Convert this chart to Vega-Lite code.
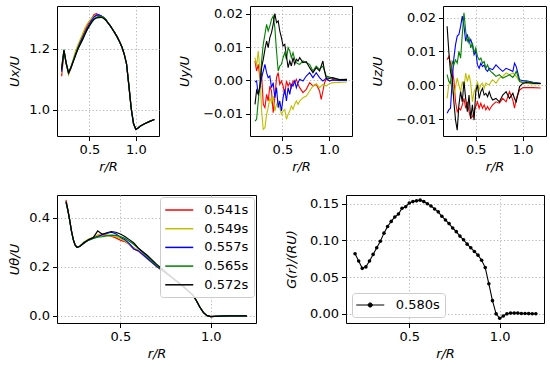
{
"$schema": "https://vega.github.io/schema/vega-lite/v6.json",
"padding": {"left": 8, "top": 5, "right": 0, "bottom": 0},
"background": "white",
"spacing": 20,
"resolve": {"scale": {"color": "independent"}},
"datasets": {
"ux": [
{"s":"0.541s","r":0.2,"v":1.11},{"s":"0.541s","r":0.225,"v":1.19},{"s":"0.541s","r":0.25,"v":1.15},{"s":"0.541s","r":0.275,"v":1.118},{"s":"0.541s","r":0.3,"v":1.135},{"s":"0.541s","r":0.325,"v":1.16},{"s":"0.541s","r":0.35,"v":1.186},{"s":"0.541s","r":0.375,"v":1.206},{"s":"0.541s","r":0.4,"v":1.225},{"s":"0.541s","r":0.425,"v":1.242},{"s":"0.541s","r":0.45,"v":1.26},{"s":"0.541s","r":0.475,"v":1.276},{"s":"0.541s","r":0.5,"v":1.288},{"s":"0.541s","r":0.525,"v":1.3},{"s":"0.541s","r":0.55,"v":1.312},{"s":"0.541s","r":0.575,"v":1.315},{"s":"0.541s","r":0.6,"v":1.311},{"s":"0.541s","r":0.625,"v":1.307},{"s":"0.541s","r":0.65,"v":1.302},{"s":"0.541s","r":0.675,"v":1.295},{"s":"0.541s","r":0.7,"v":1.285},{"s":"0.541s","r":0.725,"v":1.275},{"s":"0.541s","r":0.75,"v":1.263},{"s":"0.541s","r":0.775,"v":1.251},{"s":"0.541s","r":0.8,"v":1.238},{"s":"0.541s","r":0.825,"v":1.223},{"s":"0.541s","r":0.85,"v":1.206},{"s":"0.541s","r":0.875,"v":1.182},{"s":"0.541s","r":0.9,"v":1.15},{"s":"0.541s","r":0.925,"v":1.08},{"s":"0.541s","r":0.95,"v":1.005},{"s":"0.541s","r":0.975,"v":0.955},{"s":"0.541s","r":1.0,"v":0.936},{"s":"0.541s","r":1.025,"v":0.94},{"s":"0.541s","r":1.05,"v":0.947},{"s":"0.541s","r":1.1,"v":0.955},{"s":"0.541s","r":1.15,"v":0.962},{"s":"0.541s","r":1.2,"v":0.968},
{"s":"0.549s","r":0.2,"v":1.12},{"s":"0.549s","r":0.225,"v":1.192},{"s":"0.549s","r":0.25,"v":1.148},{"s":"0.549s","r":0.275,"v":1.115},{"s":"0.549s","r":0.3,"v":1.14},{"s":"0.549s","r":0.325,"v":1.166},{"s":"0.549s","r":0.35,"v":1.192},{"s":"0.549s","r":0.375,"v":1.212},{"s":"0.549s","r":0.4,"v":1.23},{"s":"0.549s","r":0.425,"v":1.248},{"s":"0.549s","r":0.45,"v":1.266},{"s":"0.549s","r":0.475,"v":1.281},{"s":"0.549s","r":0.5,"v":1.291},{"s":"0.549s","r":0.525,"v":1.3},{"s":"0.549s","r":0.55,"v":1.307},{"s":"0.549s","r":0.575,"v":1.31},{"s":"0.549s","r":0.6,"v":1.308},{"s":"0.549s","r":0.625,"v":1.305},{"s":"0.549s","r":0.65,"v":1.301},{"s":"0.549s","r":0.675,"v":1.295},{"s":"0.549s","r":0.7,"v":1.285},{"s":"0.549s","r":0.725,"v":1.275},{"s":"0.549s","r":0.75,"v":1.263},{"s":"0.549s","r":0.775,"v":1.251},{"s":"0.549s","r":0.8,"v":1.238},{"s":"0.549s","r":0.825,"v":1.223},{"s":"0.549s","r":0.85,"v":1.206},{"s":"0.549s","r":0.875,"v":1.182},{"s":"0.549s","r":0.9,"v":1.15},{"s":"0.549s","r":0.925,"v":1.08},{"s":"0.549s","r":0.95,"v":1.005},{"s":"0.549s","r":0.975,"v":0.955},{"s":"0.549s","r":1.0,"v":0.936},{"s":"0.549s","r":1.025,"v":0.94},{"s":"0.549s","r":1.05,"v":0.947},{"s":"0.549s","r":1.1,"v":0.955},{"s":"0.549s","r":1.15,"v":0.962},{"s":"0.549s","r":1.2,"v":0.968},
{"s":"0.557s","r":0.2,"v":1.125},{"s":"0.557s","r":0.225,"v":1.195},{"s":"0.557s","r":0.25,"v":1.152},{"s":"0.557s","r":0.275,"v":1.12},{"s":"0.557s","r":0.3,"v":1.138},{"s":"0.557s","r":0.325,"v":1.16},{"s":"0.557s","r":0.35,"v":1.182},{"s":"0.557s","r":0.375,"v":1.202},{"s":"0.557s","r":0.4,"v":1.22},{"s":"0.557s","r":0.425,"v":1.236},{"s":"0.557s","r":0.45,"v":1.252},{"s":"0.557s","r":0.475,"v":1.268},{"s":"0.557s","r":0.5,"v":1.281},{"s":"0.557s","r":0.525,"v":1.294},{"s":"0.557s","r":0.55,"v":1.304},{"s":"0.557s","r":0.575,"v":1.31},{"s":"0.557s","r":0.6,"v":1.311},{"s":"0.557s","r":0.625,"v":1.308},{"s":"0.557s","r":0.65,"v":1.303},{"s":"0.557s","r":0.675,"v":1.296},{"s":"0.557s","r":0.7,"v":1.285},{"s":"0.557s","r":0.725,"v":1.275},{"s":"0.557s","r":0.75,"v":1.263},{"s":"0.557s","r":0.775,"v":1.251},{"s":"0.557s","r":0.8,"v":1.238},{"s":"0.557s","r":0.825,"v":1.223},{"s":"0.557s","r":0.85,"v":1.206},{"s":"0.557s","r":0.875,"v":1.182},{"s":"0.557s","r":0.9,"v":1.15},{"s":"0.557s","r":0.925,"v":1.08},{"s":"0.557s","r":0.95,"v":1.005},{"s":"0.557s","r":0.975,"v":0.955},{"s":"0.557s","r":1.0,"v":0.936},{"s":"0.557s","r":1.025,"v":0.94},{"s":"0.557s","r":1.05,"v":0.947},{"s":"0.557s","r":1.1,"v":0.955},{"s":"0.557s","r":1.15,"v":0.962},{"s":"0.557s","r":1.2,"v":0.968},
{"s":"0.565s","r":0.2,"v":1.14},{"s":"0.565s","r":0.225,"v":1.197},{"s":"0.565s","r":0.25,"v":1.152},{"s":"0.565s","r":0.275,"v":1.122},{"s":"0.565s","r":0.3,"v":1.14},{"s":"0.565s","r":0.325,"v":1.16},{"s":"0.565s","r":0.35,"v":1.18},{"s":"0.565s","r":0.375,"v":1.2},{"s":"0.565s","r":0.4,"v":1.215},{"s":"0.565s","r":0.425,"v":1.23},{"s":"0.565s","r":0.45,"v":1.248},{"s":"0.565s","r":0.475,"v":1.262},{"s":"0.565s","r":0.5,"v":1.274},{"s":"0.565s","r":0.525,"v":1.286},{"s":"0.565s","r":0.55,"v":1.296},{"s":"0.565s","r":0.575,"v":1.303},{"s":"0.565s","r":0.6,"v":1.306},{"s":"0.565s","r":0.625,"v":1.306},{"s":"0.565s","r":0.65,"v":1.303},{"s":"0.565s","r":0.675,"v":1.296},{"s":"0.565s","r":0.7,"v":1.285},{"s":"0.565s","r":0.725,"v":1.275},{"s":"0.565s","r":0.75,"v":1.263},{"s":"0.565s","r":0.775,"v":1.251},{"s":"0.565s","r":0.8,"v":1.238},{"s":"0.565s","r":0.825,"v":1.223},{"s":"0.565s","r":0.85,"v":1.206},{"s":"0.565s","r":0.875,"v":1.182},{"s":"0.565s","r":0.9,"v":1.15},{"s":"0.565s","r":0.925,"v":1.08},{"s":"0.565s","r":0.95,"v":1.005},{"s":"0.565s","r":0.975,"v":0.955},{"s":"0.565s","r":1.0,"v":0.936},{"s":"0.565s","r":1.025,"v":0.94},{"s":"0.565s","r":1.05,"v":0.947},{"s":"0.565s","r":1.1,"v":0.955},{"s":"0.565s","r":1.15,"v":0.962},{"s":"0.565s","r":1.2,"v":0.968},
{"s":"0.572s","r":0.2,"v":1.132},{"s":"0.572s","r":0.225,"v":1.195},{"s":"0.572s","r":0.25,"v":1.15},{"s":"0.572s","r":0.275,"v":1.121},{"s":"0.572s","r":0.3,"v":1.138},{"s":"0.572s","r":0.325,"v":1.157},{"s":"0.572s","r":0.35,"v":1.178},{"s":"0.572s","r":0.375,"v":1.198},{"s":"0.572s","r":0.4,"v":1.214},{"s":"0.572s","r":0.425,"v":1.229},{"s":"0.572s","r":0.45,"v":1.246},{"s":"0.572s","r":0.475,"v":1.262},{"s":"0.572s","r":0.5,"v":1.276},{"s":"0.572s","r":0.525,"v":1.288},{"s":"0.572s","r":0.55,"v":1.297},{"s":"0.572s","r":0.575,"v":1.301},{"s":"0.572s","r":0.6,"v":1.302},{"s":"0.572s","r":0.625,"v":1.303},{"s":"0.572s","r":0.65,"v":1.3},{"s":"0.572s","r":0.675,"v":1.294},{"s":"0.572s","r":0.7,"v":1.285},{"s":"0.572s","r":0.725,"v":1.275},{"s":"0.572s","r":0.75,"v":1.263},{"s":"0.572s","r":0.775,"v":1.251},{"s":"0.572s","r":0.8,"v":1.238},{"s":"0.572s","r":0.825,"v":1.223},{"s":"0.572s","r":0.85,"v":1.206},{"s":"0.572s","r":0.875,"v":1.182},{"s":"0.572s","r":0.9,"v":1.15},{"s":"0.572s","r":0.925,"v":1.08},{"s":"0.572s","r":0.95,"v":1.005},{"s":"0.572s","r":0.975,"v":0.955},{"s":"0.572s","r":1.0,"v":0.936},{"s":"0.572s","r":1.025,"v":0.94},{"s":"0.572s","r":1.05,"v":0.947},{"s":"0.572s","r":1.1,"v":0.955},{"s":"0.572s","r":1.15,"v":0.962},{"s":"0.572s","r":1.2,"v":0.968}
],
"uy": [
{"s":"0.541s","r":0.204,"v":0.0058},{"s":"0.541s","r":0.221,"v":0.0028},{"s":"0.541s","r":0.239,"v":0.0048},{"s":"0.541s","r":0.257,"v":0.0008},{"s":"0.541s","r":0.275,"v":0.0018},{"s":"0.541s","r":0.293,"v":-0.0072},{"s":"0.541s","r":0.311,"v":-0.0082},{"s":"0.541s","r":0.329,"v":-0.0042},{"s":"0.541s","r":0.346,"v":-0.0062},{"s":"0.541s","r":0.364,"v":-0.0017},{"s":"0.541s","r":0.382,"v":-0.0032},{"s":"0.541s","r":0.4,"v":-0.0097},{"s":"0.541s","r":0.418,"v":-0.0052},{"s":"0.541s","r":0.436,"v":0.0008},{"s":"0.541s","r":0.454,"v":0.0023},{"s":"0.541s","r":0.471,"v":-0.0012},{"s":"0.541s","r":0.489,"v":-0.0002},{"s":"0.541s","r":0.507,"v":-0.0017},{"s":"0.541s","r":0.525,"v":-0.0042},{"s":"0.541s","r":0.543,"v":-0.0002},{"s":"0.541s","r":0.561,"v":-0.0017},{"s":"0.541s","r":0.579,"v":-0.0007},{"s":"0.541s","r":0.596,"v":-0.0022},{"s":"0.541s","r":0.614,"v":-0.0002},{"s":"0.541s","r":0.632,"v":-0.0007},{"s":"0.541s","r":0.65,"v":0.0003},{"s":"0.541s","r":0.668,"v":-0.0012},{"s":"0.541s","r":0.686,"v":-0.0022},{"s":"0.541s","r":0.721,"v":-0.0037},{"s":"0.541s","r":0.757,"v":-0.0027},{"s":"0.541s","r":0.793,"v":-0.0007},{"s":"0.541s","r":0.829,"v":-0.0017},{"s":"0.541s","r":0.864,"v":-0.0012},{"s":"0.541s","r":0.9,"v":-0.0032},{"s":"0.541s","r":0.918,"v":-0.0057},{"s":"0.541s","r":0.936,"v":-0.0032},{"s":"0.541s","r":0.954,"v":-0.0007},{"s":"0.541s","r":0.971,"v":0.0003},{"s":"0.541s","r":1.007,"v":-0.0002},{"s":"0.541s","r":1.043,"v":0.0002},{"s":"0.541s","r":1.114,"v":0.0},{"s":"0.541s","r":1.196,"v":0.0001},
{"s":"0.549s","r":0.204,"v":0.0068},{"s":"0.549s","r":0.221,"v":0.0043},{"s":"0.549s","r":0.239,"v":0.0088},{"s":"0.549s","r":0.257,"v":0.0028},{"s":"0.549s","r":0.275,"v":-0.0092},{"s":"0.549s","r":0.293,"v":-0.0147},{"s":"0.549s","r":0.311,"v":-0.0142},{"s":"0.549s","r":0.329,"v":-0.0102},{"s":"0.549s","r":0.346,"v":-0.0082},{"s":"0.549s","r":0.364,"v":-0.0052},{"s":"0.549s","r":0.382,"v":-0.0067},{"s":"0.549s","r":0.4,"v":-0.0047},{"s":"0.549s","r":0.418,"v":-0.0092},{"s":"0.549s","r":0.436,"v":-0.0072},{"s":"0.549s","r":0.454,"v":-0.0062},{"s":"0.549s","r":0.471,"v":-0.0082},{"s":"0.549s","r":0.489,"v":-0.0102},{"s":"0.549s","r":0.507,"v":-0.0092},{"s":"0.549s","r":0.525,"v":-0.0087},{"s":"0.549s","r":0.543,"v":-0.0117},{"s":"0.549s","r":0.561,"v":-0.0102},{"s":"0.549s","r":0.579,"v":-0.0092},{"s":"0.549s","r":0.596,"v":-0.0077},{"s":"0.549s","r":0.614,"v":-0.0087},{"s":"0.549s","r":0.632,"v":-0.0072},{"s":"0.549s","r":0.65,"v":-0.0062},{"s":"0.549s","r":0.668,"v":-0.0072},{"s":"0.549s","r":0.686,"v":-0.0062},{"s":"0.549s","r":0.721,"v":-0.0052},{"s":"0.549s","r":0.757,"v":-0.0047},{"s":"0.549s","r":0.793,"v":-0.0032},{"s":"0.549s","r":0.829,"v":-0.0017},{"s":"0.549s","r":0.864,"v":-0.001},{"s":"0.549s","r":0.9,"v":-0.0022},{"s":"0.549s","r":0.918,"v":-0.0017},{"s":"0.549s","r":0.936,"v":-0.0012},{"s":"0.549s","r":0.954,"v":-0.0015},{"s":"0.549s","r":0.971,"v":-0.0017},{"s":"0.549s","r":1.007,"v":-0.001},{"s":"0.549s","r":1.043,"v":-0.0007},{"s":"0.549s","r":1.114,"v":-0.0006},{"s":"0.549s","r":1.196,"v":-0.0005},
{"s":"0.557s","r":0.204,"v":-0.0005},{"s":"0.557s","r":0.221,"v":-0.0002},{"s":"0.557s","r":0.239,"v":-0.0042},{"s":"0.557s","r":0.257,"v":-0.0022},{"s":"0.557s","r":0.275,"v":0.0008},{"s":"0.557s","r":0.293,"v":0.0028},{"s":"0.557s","r":0.311,"v":0.0048},{"s":"0.557s","r":0.329,"v":0.0023},{"s":"0.557s","r":0.346,"v":0.0008},{"s":"0.557s","r":0.364,"v":0.0013},{"s":"0.557s","r":0.382,"v":-0.0022},{"s":"0.557s","r":0.4,"v":-0.0007},{"s":"0.557s","r":0.418,"v":-0.0052},{"s":"0.557s","r":0.436,"v":-0.0022},{"s":"0.557s","r":0.454,"v":-0.0082},{"s":"0.557s","r":0.471,"v":-0.0062},{"s":"0.557s","r":0.489,"v":-0.0092},{"s":"0.557s","r":0.507,"v":-0.0052},{"s":"0.557s","r":0.525,"v":-0.0027},{"s":"0.557s","r":0.543,"v":-0.0062},{"s":"0.557s","r":0.561,"v":-0.0022},{"s":"0.557s","r":0.579,"v":-0.0042},{"s":"0.557s","r":0.596,"v":-0.0012},{"s":"0.557s","r":0.614,"v":-0.0017},{"s":"0.557s","r":0.632,"v":-0.0002},{"s":"0.557s","r":0.65,"v":-0.0022},{"s":"0.557s","r":0.668,"v":-0.0007},{"s":"0.557s","r":0.686,"v":0.0003},{"s":"0.557s","r":0.721,"v":-0.0002},{"s":"0.557s","r":0.757,"v":0.0013},{"s":"0.557s","r":0.793,"v":0.0023},{"s":"0.557s","r":0.829,"v":0.0008},{"s":"0.557s","r":0.864,"v":0.0023},{"s":"0.557s","r":0.9,"v":0.0008},{"s":"0.557s","r":0.918,"v":0.0003},{"s":"0.557s","r":0.936,"v":-0.0002},{"s":"0.557s","r":0.954,"v":0.0002},{"s":"0.557s","r":0.971,"v":0.0006},{"s":"0.557s","r":1.007,"v":-0.0002},{"s":"0.557s","r":1.043,"v":0.0001},{"s":"0.557s","r":1.114,"v":0.0},{"s":"0.557s","r":1.196,"v":0.0},
{"s":"0.565s","r":0.204,"v":-0.0122},{"s":"0.565s","r":0.221,"v":-0.0117},{"s":"0.565s","r":0.239,"v":-0.0062},{"s":"0.565s","r":0.257,"v":-0.0012},{"s":"0.565s","r":0.275,"v":0.0058},{"s":"0.565s","r":0.293,"v":0.0108},{"s":"0.565s","r":0.311,"v":0.0138},{"s":"0.565s","r":0.329,"v":0.0168},{"s":"0.565s","r":0.346,"v":0.0148},{"s":"0.565s","r":0.364,"v":0.0163},{"s":"0.565s","r":0.382,"v":0.0183},{"s":"0.565s","r":0.4,"v":0.0193},{"s":"0.565s","r":0.418,"v":0.0158},{"s":"0.565s","r":0.436,"v":0.0088},{"s":"0.565s","r":0.454,"v":0.0028},{"s":"0.565s","r":0.471,"v":0.0043},{"s":"0.565s","r":0.489,"v":0.0048},{"s":"0.565s","r":0.507,"v":0.0068},{"s":"0.565s","r":0.525,"v":0.0083},{"s":"0.565s","r":0.543,"v":0.0063},{"s":"0.565s","r":0.561,"v":0.0098},{"s":"0.565s","r":0.579,"v":0.0088},{"s":"0.565s","r":0.596,"v":0.0068},{"s":"0.565s","r":0.614,"v":0.0083},{"s":"0.565s","r":0.632,"v":0.0063},{"s":"0.565s","r":0.65,"v":0.0053},{"s":"0.565s","r":0.668,"v":0.005},{"s":"0.565s","r":0.686,"v":0.0048},{"s":"0.565s","r":0.721,"v":0.0058},{"s":"0.565s","r":0.757,"v":0.0053},{"s":"0.565s","r":0.793,"v":0.0048},{"s":"0.565s","r":0.829,"v":0.0028},{"s":"0.565s","r":0.864,"v":0.0043},{"s":"0.565s","r":0.9,"v":0.0033},{"s":"0.565s","r":0.918,"v":0.0038},{"s":"0.565s","r":0.936,"v":0.0043},{"s":"0.565s","r":0.954,"v":0.0028},{"s":"0.565s","r":0.971,"v":0.0013},{"s":"0.565s","r":1.007,"v":0.001},{"s":"0.565s","r":1.043,"v":0.0006},{"s":"0.565s","r":1.114,"v":0.0003},{"s":"0.565s","r":1.196,"v":0.0002},
{"s":"0.572s","r":0.204,"v":-0.0072},{"s":"0.572s","r":0.221,"v":-0.003},{"s":"0.572s","r":0.239,"v":-0.0042},{"s":"0.572s","r":0.257,"v":-0.0017},{"s":"0.572s","r":0.275,"v":0.0038},{"s":"0.572s","r":0.293,"v":0.0063},{"s":"0.572s","r":0.311,"v":0.0093},{"s":"0.572s","r":0.329,"v":0.0118},{"s":"0.572s","r":0.346,"v":0.0098},{"s":"0.572s","r":0.364,"v":0.0128},{"s":"0.572s","r":0.382,"v":0.0143},{"s":"0.572s","r":0.4,"v":0.0168},{"s":"0.572s","r":0.418,"v":0.02},{"s":"0.572s","r":0.436,"v":0.0173},{"s":"0.572s","r":0.454,"v":0.0178},{"s":"0.572s","r":0.471,"v":0.0148},{"s":"0.572s","r":0.489,"v":0.0128},{"s":"0.572s","r":0.507,"v":0.0103},{"s":"0.572s","r":0.525,"v":0.0108},{"s":"0.572s","r":0.543,"v":0.0073},{"s":"0.572s","r":0.561,"v":0.0038},{"s":"0.572s","r":0.579,"v":0.0058},{"s":"0.572s","r":0.596,"v":0.0043},{"s":"0.572s","r":0.614,"v":0.0068},{"s":"0.572s","r":0.632,"v":0.0048},{"s":"0.572s","r":0.65,"v":0.0063},{"s":"0.572s","r":0.668,"v":0.0058},{"s":"0.572s","r":0.686,"v":0.0068},{"s":"0.572s","r":0.721,"v":0.0053},{"s":"0.572s","r":0.757,"v":0.0056},{"s":"0.572s","r":0.793,"v":0.0038},{"s":"0.572s","r":0.829,"v":0.0023},{"s":"0.572s","r":0.864,"v":0.0038},{"s":"0.572s","r":0.9,"v":0.0028},{"s":"0.572s","r":0.918,"v":0.0043},{"s":"0.572s","r":0.936,"v":0.0058},{"s":"0.572s","r":0.954,"v":0.0028},{"s":"0.572s","r":0.971,"v":0.0008},{"s":"0.572s","r":1.007,"v":0.0006},{"s":"0.572s","r":1.043,"v":0.0008},{"s":"0.572s","r":1.114,"v":0.0002},{"s":"0.572s","r":1.196,"v":0.0003}
],
"uz": [
{"s":"0.541s","r":0.194,"v":0.0075},{"s":"0.541s","r":0.212,"v":0.0085},{"s":"0.541s","r":0.23,"v":0.0065},{"s":"0.541s","r":0.248,"v":0.0046},{"s":"0.541s","r":0.266,"v":0.0016},{"s":"0.541s","r":0.284,"v":-0.0049},{"s":"0.541s","r":0.302,"v":-0.0078},{"s":"0.541s","r":0.32,"v":-0.0068},{"s":"0.541s","r":0.338,"v":-0.0073},{"s":"0.541s","r":0.356,"v":-0.0058},{"s":"0.541s","r":0.374,"v":-0.0039},{"s":"0.541s","r":0.392,"v":-0.0068},{"s":"0.541s","r":0.41,"v":-0.0049},{"s":"0.541s","r":0.428,"v":-0.0078},{"s":"0.541s","r":0.446,"v":-0.0098},{"s":"0.541s","r":0.464,"v":-0.0093},{"s":"0.541s","r":0.482,"v":-0.0078},{"s":"0.541s","r":0.5,"v":-0.0063},{"s":"0.541s","r":0.518,"v":-0.0049},{"s":"0.541s","r":0.536,"v":-0.0068},{"s":"0.541s","r":0.554,"v":-0.0053},{"s":"0.541s","r":0.572,"v":-0.0068},{"s":"0.541s","r":0.59,"v":-0.0058},{"s":"0.541s","r":0.608,"v":-0.0073},{"s":"0.541s","r":0.626,"v":-0.0063},{"s":"0.541s","r":0.644,"v":-0.0073},{"s":"0.541s","r":0.662,"v":-0.0065},{"s":"0.541s","r":0.68,"v":-0.0058},{"s":"0.541s","r":0.716,"v":-0.0049},{"s":"0.541s","r":0.752,"v":-0.0053},{"s":"0.541s","r":0.788,"v":-0.0039},{"s":"0.541s","r":0.824,"v":-0.0049},{"s":"0.541s","r":0.86,"v":-0.0019},{"s":"0.541s","r":0.896,"v":-0.0044},{"s":"0.541s","r":0.914,"v":-0.0068},{"s":"0.541s","r":0.932,"v":-0.0039},{"s":"0.541s","r":0.968,"v":-0.0014},{"s":"0.541s","r":1.004,"v":-0.0007},{"s":"0.541s","r":1.04,"v":-0.0007},{"s":"0.541s","r":1.112,"v":-0.0007},{"s":"0.541s","r":1.194,"v":-0.0008},
{"s":"0.549s","r":0.194,"v":-0.0039},{"s":"0.549s","r":0.212,"v":0.0001},{"s":"0.549s","r":0.23,"v":0.0016},{"s":"0.549s","r":0.248,"v":-0.0019},{"s":"0.549s","r":0.266,"v":-0.0029},{"s":"0.549s","r":0.284,"v":-0.0004},{"s":"0.549s","r":0.302,"v":0.0021},{"s":"0.549s","r":0.32,"v":0.0001},{"s":"0.549s","r":0.338,"v":-0.0019},{"s":"0.549s","r":0.356,"v":0.0011},{"s":"0.549s","r":0.374,"v":-0.0009},{"s":"0.549s","r":0.392,"v":0.0036},{"s":"0.549s","r":0.41,"v":0.0011},{"s":"0.549s","r":0.428,"v":0.0031},{"s":"0.549s","r":0.446,"v":0.0006},{"s":"0.549s","r":0.464,"v":-0.0049},{"s":"0.549s","r":0.482,"v":-0.0019},{"s":"0.549s","r":0.5,"v":-0.0009},{"s":"0.549s","r":0.518,"v":0.0011},{"s":"0.549s","r":0.536,"v":-0.0014},{"s":"0.549s","r":0.554,"v":0.0001},{"s":"0.549s","r":0.572,"v":0.0006},{"s":"0.549s","r":0.59,"v":-0.0009},{"s":"0.549s","r":0.608,"v":0.0006},{"s":"0.549s","r":0.626,"v":0.0003},{"s":"0.549s","r":0.644,"v":0.0001},{"s":"0.549s","r":0.662,"v":0.001},{"s":"0.549s","r":0.68,"v":0.0016},{"s":"0.549s","r":0.716,"v":0.0006},{"s":"0.549s","r":0.752,"v":0.0021},{"s":"0.549s","r":0.788,"v":0.0026},{"s":"0.549s","r":0.824,"v":0.0036},{"s":"0.549s","r":0.86,"v":0.0031},{"s":"0.549s","r":0.896,"v":0.0036},{"s":"0.549s","r":0.914,"v":0.0031},{"s":"0.549s","r":0.932,"v":0.0026},{"s":"0.549s","r":0.968,"v":0.0011},{"s":"0.549s","r":1.004,"v":0.0006},{"s":"0.549s","r":1.04,"v":0.0005},{"s":"0.549s","r":1.112,"v":0.0004},{"s":"0.549s","r":1.194,"v":0.0004},
{"s":"0.557s","r":0.194,"v":-0.0083},{"s":"0.557s","r":0.212,"v":-0.0073},{"s":"0.557s","r":0.23,"v":-0.0068},{"s":"0.557s","r":0.248,"v":0.0011},{"s":"0.557s","r":0.266,"v":0.008},{"s":"0.557s","r":0.284,"v":0.012},{"s":"0.557s","r":0.302,"v":0.0145},{"s":"0.557s","r":0.32,"v":0.015},{"s":"0.557s","r":0.338,"v":0.0174},{"s":"0.557s","r":0.356,"v":0.0204},{"s":"0.557s","r":0.374,"v":0.0174},{"s":"0.557s","r":0.392,"v":0.013},{"s":"0.557s","r":0.41,"v":0.015},{"s":"0.557s","r":0.428,"v":0.0125},{"s":"0.557s","r":0.446,"v":0.0135},{"s":"0.557s","r":0.464,"v":0.012},{"s":"0.557s","r":0.482,"v":0.009},{"s":"0.557s","r":0.5,"v":0.01},{"s":"0.557s","r":0.518,"v":0.006},{"s":"0.557s","r":0.536,"v":0.005},{"s":"0.557s","r":0.554,"v":0.0065},{"s":"0.557s","r":0.572,"v":0.0055},{"s":"0.557s","r":0.59,"v":0.006},{"s":"0.557s","r":0.608,"v":0.0046},{"s":"0.557s","r":0.626,"v":0.0041},{"s":"0.557s","r":0.644,"v":0.005},{"s":"0.557s","r":0.662,"v":0.0048},{"s":"0.557s","r":0.68,"v":0.0046},{"s":"0.557s","r":0.716,"v":0.006},{"s":"0.557s","r":0.752,"v":0.005},{"s":"0.557s","r":0.788,"v":0.0041},{"s":"0.557s","r":0.824,"v":0.005},{"s":"0.557s","r":0.86,"v":0.0046},{"s":"0.557s","r":0.896,"v":0.0041},{"s":"0.557s","r":0.914,"v":0.0065},{"s":"0.557s","r":0.932,"v":0.0055},{"s":"0.557s","r":0.968,"v":0.0016},{"s":"0.557s","r":1.004,"v":0.0013},{"s":"0.557s","r":1.04,"v":0.0013},{"s":"0.557s","r":1.112,"v":0.0009},{"s":"0.557s","r":1.194,"v":0.0006},
{"s":"0.565s","r":0.194,"v":0.0031},{"s":"0.565s","r":0.212,"v":0.0011},{"s":"0.565s","r":0.23,"v":0.0006},{"s":"0.565s","r":0.248,"v":0.007},{"s":"0.565s","r":0.266,"v":0.006},{"s":"0.565s","r":0.284,"v":0.0075},{"s":"0.565s","r":0.302,"v":0.0065},{"s":"0.565s","r":0.32,"v":0.01},{"s":"0.565s","r":0.338,"v":0.008},{"s":"0.565s","r":0.356,"v":0.015},{"s":"0.565s","r":0.374,"v":0.0214},{"s":"0.565s","r":0.392,"v":0.016},{"s":"0.565s","r":0.41,"v":0.013},{"s":"0.565s","r":0.428,"v":0.014},{"s":"0.565s","r":0.446,"v":0.011},{"s":"0.565s","r":0.464,"v":0.0125},{"s":"0.565s","r":0.482,"v":0.0095},{"s":"0.565s","r":0.5,"v":0.011},{"s":"0.565s","r":0.518,"v":0.0085},{"s":"0.565s","r":0.536,"v":0.0075},{"s":"0.565s","r":0.554,"v":0.008},{"s":"0.565s","r":0.572,"v":0.0065},{"s":"0.565s","r":0.59,"v":0.007},{"s":"0.565s","r":0.608,"v":0.005},{"s":"0.565s","r":0.626,"v":0.006},{"s":"0.565s","r":0.644,"v":0.0046},{"s":"0.565s","r":0.662,"v":0.004},{"s":"0.565s","r":0.68,"v":0.0036},{"s":"0.565s","r":0.716,"v":0.0026},{"s":"0.565s","r":0.752,"v":0.0031},{"s":"0.565s","r":0.788,"v":0.0021},{"s":"0.565s","r":0.824,"v":0.0026},{"s":"0.565s","r":0.86,"v":0.0031},{"s":"0.565s","r":0.896,"v":0.0023},{"s":"0.565s","r":0.914,"v":0.003},{"s":"0.565s","r":0.932,"v":0.0041},{"s":"0.565s","r":0.968,"v":0.0011},{"s":"0.565s","r":1.004,"v":0.0009},{"s":"0.565s","r":1.04,"v":0.0011},{"s":"0.565s","r":1.112,"v":0.0007},{"s":"0.565s","r":1.194,"v":0.0005},
{"s":"0.572s","r":0.194,"v":0.0174},{"s":"0.572s","r":0.212,"v":0.01},{"s":"0.572s","r":0.23,"v":0.004},{"s":"0.572s","r":0.248,"v":0.0021},{"s":"0.572s","r":0.266,"v":-0.0049},{"s":"0.572s","r":0.284,"v":-0.0103},{"s":"0.572s","r":0.302,"v":-0.0133},{"s":"0.572s","r":0.32,"v":-0.0058},{"s":"0.572s","r":0.338,"v":-0.0019},{"s":"0.572s","r":0.356,"v":-0.0049},{"s":"0.572s","r":0.374,"v":0.0011},{"s":"0.572s","r":0.392,"v":-0.0039},{"s":"0.572s","r":0.41,"v":-0.0078},{"s":"0.572s","r":0.428,"v":-0.0029},{"s":"0.572s","r":0.446,"v":-0.0098},{"s":"0.572s","r":0.464,"v":-0.0058},{"s":"0.572s","r":0.482,"v":-0.0103},{"s":"0.572s","r":0.5,"v":-0.0019},{"s":"0.572s","r":0.518,"v":0.0001},{"s":"0.572s","r":0.536,"v":-0.0039},{"s":"0.572s","r":0.554,"v":-0.0019},{"s":"0.572s","r":0.572,"v":-0.0009},{"s":"0.572s","r":0.59,"v":-0.0029},{"s":"0.572s","r":0.608,"v":-0.0024},{"s":"0.572s","r":0.626,"v":-0.0034},{"s":"0.572s","r":0.644,"v":-0.0019},{"s":"0.572s","r":0.662,"v":-0.0034},{"s":"0.572s","r":0.68,"v":-0.0044},{"s":"0.572s","r":0.716,"v":-0.0039},{"s":"0.572s","r":0.752,"v":-0.0049},{"s":"0.572s","r":0.788,"v":-0.0029},{"s":"0.572s","r":0.824,"v":-0.0019},{"s":"0.572s","r":0.86,"v":-0.0039},{"s":"0.572s","r":0.896,"v":-0.0024},{"s":"0.572s","r":0.914,"v":-0.004},{"s":"0.572s","r":0.932,"v":-0.0049},{"s":"0.572s","r":0.968,"v":-0.0004},{"s":"0.572s","r":1.004,"v":0.0006},{"s":"0.572s","r":1.04,"v":0.0008},{"s":"0.572s","r":1.112,"v":0.0006},{"s":"0.572s","r":1.194,"v":0.0005}
],
"ut": [
{"s":"0.541s","r":0.2,"v":0.472},{"s":"0.541s","r":0.21,"v":0.432},{"s":"0.541s","r":0.22,"v":0.392},{"s":"0.541s","r":0.23,"v":0.347},{"s":"0.541s","r":0.24,"v":0.311},{"s":"0.541s","r":0.25,"v":0.288},{"s":"0.541s","r":0.26,"v":0.279},{"s":"0.541s","r":0.275,"v":0.283},{"s":"0.541s","r":0.3,"v":0.296},{"s":"0.541s","r":0.325,"v":0.309},{"s":"0.541s","r":0.35,"v":0.318},{"s":"0.541s","r":0.375,"v":0.325},{"s":"0.541s","r":0.4,"v":0.33},{"s":"0.541s","r":0.425,"v":0.327},{"s":"0.541s","r":0.45,"v":0.324},{"s":"0.541s","r":0.475,"v":0.317},{"s":"0.541s","r":0.5,"v":0.308},{"s":"0.541s","r":0.525,"v":0.302},{"s":"0.541s","r":0.55,"v":0.29},{"s":"0.541s","r":0.575,"v":0.272},{"s":"0.541s","r":0.6,"v":0.263},{"s":"0.541s","r":0.65,"v":0.232},{"s":"0.541s","r":0.7,"v":0.2},{"s":"0.541s","r":0.75,"v":0.175},{"s":"0.541s","r":0.8,"v":0.147},{"s":"0.541s","r":0.85,"v":0.118},{"s":"0.541s","r":0.9,"v":0.085},{"s":"0.541s","r":0.92,"v":0.062},{"s":"0.541s","r":0.94,"v":0.034},{"s":"0.541s","r":0.96,"v":0.012},{"s":"0.541s","r":0.98,"v":0.0},{"s":"0.541s","r":1.0,"v":-0.004},{"s":"0.541s","r":1.02,"v":-0.003},{"s":"0.541s","r":1.05,"v":-0.002},{"s":"0.541s","r":1.1,"v":-0.001},{"s":"0.541s","r":1.15,"v":-0.001},{"s":"0.541s","r":1.2,"v":-0.001},
{"s":"0.549s","r":0.2,"v":0.468},{"s":"0.549s","r":0.21,"v":0.43},{"s":"0.549s","r":0.22,"v":0.39},{"s":"0.549s","r":0.23,"v":0.345},{"s":"0.549s","r":0.24,"v":0.31},{"s":"0.549s","r":0.25,"v":0.288},{"s":"0.549s","r":0.26,"v":0.279},{"s":"0.549s","r":0.275,"v":0.282},{"s":"0.549s","r":0.3,"v":0.3},{"s":"0.549s","r":0.325,"v":0.312},{"s":"0.549s","r":0.35,"v":0.32},{"s":"0.549s","r":0.375,"v":0.33},{"s":"0.549s","r":0.4,"v":0.335},{"s":"0.549s","r":0.425,"v":0.33},{"s":"0.549s","r":0.45,"v":0.326},{"s":"0.549s","r":0.475,"v":0.322},{"s":"0.549s","r":0.5,"v":0.314},{"s":"0.549s","r":0.525,"v":0.305},{"s":"0.549s","r":0.55,"v":0.29},{"s":"0.549s","r":0.575,"v":0.278},{"s":"0.549s","r":0.6,"v":0.266},{"s":"0.549s","r":0.65,"v":0.233},{"s":"0.549s","r":0.7,"v":0.201},{"s":"0.549s","r":0.75,"v":0.175},{"s":"0.549s","r":0.8,"v":0.147},{"s":"0.549s","r":0.85,"v":0.118},{"s":"0.549s","r":0.9,"v":0.085},{"s":"0.549s","r":0.92,"v":0.062},{"s":"0.549s","r":0.94,"v":0.034},{"s":"0.549s","r":0.96,"v":0.012},{"s":"0.549s","r":0.98,"v":0.0},{"s":"0.549s","r":1.0,"v":-0.004},{"s":"0.549s","r":1.02,"v":-0.003},{"s":"0.549s","r":1.05,"v":-0.002},{"s":"0.549s","r":1.1,"v":-0.001},{"s":"0.549s","r":1.15,"v":-0.001},{"s":"0.549s","r":1.2,"v":-0.001},
{"s":"0.557s","r":0.2,"v":0.465},{"s":"0.557s","r":0.21,"v":0.43},{"s":"0.557s","r":0.22,"v":0.39},{"s":"0.557s","r":0.23,"v":0.345},{"s":"0.557s","r":0.24,"v":0.31},{"s":"0.557s","r":0.25,"v":0.288},{"s":"0.557s","r":0.26,"v":0.279},{"s":"0.557s","r":0.275,"v":0.282},{"s":"0.557s","r":0.3,"v":0.296},{"s":"0.557s","r":0.325,"v":0.308},{"s":"0.557s","r":0.35,"v":0.316},{"s":"0.557s","r":0.375,"v":0.322},{"s":"0.557s","r":0.4,"v":0.33},{"s":"0.557s","r":0.425,"v":0.335},{"s":"0.557s","r":0.45,"v":0.34},{"s":"0.557s","r":0.475,"v":0.334},{"s":"0.557s","r":0.5,"v":0.32},{"s":"0.557s","r":0.525,"v":0.31},{"s":"0.557s","r":0.55,"v":0.294},{"s":"0.557s","r":0.575,"v":0.272},{"s":"0.557s","r":0.6,"v":0.265},{"s":"0.557s","r":0.65,"v":0.233},{"s":"0.557s","r":0.7,"v":0.201},{"s":"0.557s","r":0.75,"v":0.175},{"s":"0.557s","r":0.8,"v":0.147},{"s":"0.557s","r":0.85,"v":0.118},{"s":"0.557s","r":0.9,"v":0.085},{"s":"0.557s","r":0.92,"v":0.062},{"s":"0.557s","r":0.94,"v":0.034},{"s":"0.557s","r":0.96,"v":0.012},{"s":"0.557s","r":0.98,"v":0.0},{"s":"0.557s","r":1.0,"v":-0.004},{"s":"0.557s","r":1.02,"v":-0.003},{"s":"0.557s","r":1.05,"v":-0.002},{"s":"0.557s","r":1.1,"v":-0.001},{"s":"0.557s","r":1.15,"v":-0.001},{"s":"0.557s","r":1.2,"v":-0.001},
{"s":"0.565s","r":0.2,"v":0.46},{"s":"0.565s","r":0.21,"v":0.428},{"s":"0.565s","r":0.22,"v":0.388},{"s":"0.565s","r":0.23,"v":0.344},{"s":"0.565s","r":0.24,"v":0.31},{"s":"0.565s","r":0.25,"v":0.288},{"s":"0.565s","r":0.26,"v":0.279},{"s":"0.565s","r":0.275,"v":0.282},{"s":"0.565s","r":0.3,"v":0.3},{"s":"0.565s","r":0.325,"v":0.308},{"s":"0.565s","r":0.35,"v":0.315},{"s":"0.565s","r":0.375,"v":0.32},{"s":"0.565s","r":0.4,"v":0.322},{"s":"0.565s","r":0.425,"v":0.325},{"s":"0.565s","r":0.45,"v":0.328},{"s":"0.565s","r":0.475,"v":0.327},{"s":"0.565s","r":0.5,"v":0.322},{"s":"0.565s","r":0.525,"v":0.315},{"s":"0.565s","r":0.55,"v":0.303},{"s":"0.565s","r":0.575,"v":0.29},{"s":"0.565s","r":0.6,"v":0.275},{"s":"0.565s","r":0.65,"v":0.24},{"s":"0.565s","r":0.7,"v":0.205},{"s":"0.565s","r":0.75,"v":0.175},{"s":"0.565s","r":0.8,"v":0.147},{"s":"0.565s","r":0.85,"v":0.118},{"s":"0.565s","r":0.9,"v":0.085},{"s":"0.565s","r":0.92,"v":0.062},{"s":"0.565s","r":0.94,"v":0.034},{"s":"0.565s","r":0.96,"v":0.012},{"s":"0.565s","r":0.98,"v":0.0},{"s":"0.565s","r":1.0,"v":-0.004},{"s":"0.565s","r":1.02,"v":-0.003},{"s":"0.565s","r":1.05,"v":-0.002},{"s":"0.565s","r":1.1,"v":-0.001},{"s":"0.565s","r":1.15,"v":-0.001},{"s":"0.565s","r":1.2,"v":-0.001},
{"s":"0.572s","r":0.2,"v":0.465},{"s":"0.572s","r":0.21,"v":0.43},{"s":"0.572s","r":0.22,"v":0.39},{"s":"0.572s","r":0.23,"v":0.345},{"s":"0.572s","r":0.24,"v":0.31},{"s":"0.572s","r":0.25,"v":0.288},{"s":"0.572s","r":0.26,"v":0.279},{"s":"0.572s","r":0.275,"v":0.282},{"s":"0.572s","r":0.3,"v":0.297},{"s":"0.572s","r":0.325,"v":0.31},{"s":"0.572s","r":0.35,"v":0.318},{"s":"0.572s","r":0.375,"v":0.346},{"s":"0.572s","r":0.4,"v":0.332},{"s":"0.572s","r":0.425,"v":0.338},{"s":"0.572s","r":0.45,"v":0.343},{"s":"0.572s","r":0.475,"v":0.34},{"s":"0.572s","r":0.5,"v":0.333},{"s":"0.572s","r":0.525,"v":0.323},{"s":"0.572s","r":0.55,"v":0.31},{"s":"0.572s","r":0.575,"v":0.296},{"s":"0.572s","r":0.6,"v":0.275},{"s":"0.572s","r":0.65,"v":0.245},{"s":"0.572s","r":0.7,"v":0.21},{"s":"0.572s","r":0.75,"v":0.178},{"s":"0.572s","r":0.8,"v":0.147},{"s":"0.572s","r":0.85,"v":0.118},{"s":"0.572s","r":0.9,"v":0.085},{"s":"0.572s","r":0.92,"v":0.062},{"s":"0.572s","r":0.94,"v":0.034},{"s":"0.572s","r":0.96,"v":0.012},{"s":"0.572s","r":0.98,"v":0.0},{"s":"0.572s","r":1.0,"v":-0.004},{"s":"0.572s","r":1.02,"v":-0.003},{"s":"0.572s","r":1.05,"v":-0.002},{"s":"0.572s","r":1.1,"v":-0.001},{"s":"0.572s","r":1.15,"v":-0.001},{"s":"0.572s","r":1.2,"v":-0.001}
],
"g": [
{"s":"0.580s","r":0.2,"v":0.082},{"s":"0.580s","r":0.22,"v":0.072},{"s":"0.580s","r":0.24,"v":0.062},{"s":"0.580s","r":0.26,"v":0.064},{"s":"0.580s","r":0.28,"v":0.072},{"s":"0.580s","r":0.3,"v":0.081},{"s":"0.580s","r":0.32,"v":0.09},{"s":"0.580s","r":0.34,"v":0.099},{"s":"0.580s","r":0.36,"v":0.11},{"s":"0.580s","r":0.38,"v":0.119},{"s":"0.580s","r":0.4,"v":0.126},{"s":"0.580s","r":0.42,"v":0.132},{"s":"0.580s","r":0.44,"v":0.136},{"s":"0.580s","r":0.46,"v":0.144},{"s":"0.580s","r":0.48,"v":0.146},{"s":"0.580s","r":0.5,"v":0.151},{"s":"0.580s","r":0.52,"v":0.153},{"s":"0.580s","r":0.54,"v":0.154},{"s":"0.580s","r":0.56,"v":0.155},{"s":"0.580s","r":0.58,"v":0.153},{"s":"0.580s","r":0.6,"v":0.15},{"s":"0.580s","r":0.62,"v":0.147},{"s":"0.580s","r":0.64,"v":0.143},{"s":"0.580s","r":0.66,"v":0.139},{"s":"0.580s","r":0.68,"v":0.133},{"s":"0.580s","r":0.7,"v":0.128},{"s":"0.580s","r":0.72,"v":0.123},{"s":"0.580s","r":0.74,"v":0.117},{"s":"0.580s","r":0.76,"v":0.112},{"s":"0.580s","r":0.78,"v":0.106},{"s":"0.580s","r":0.8,"v":0.101},{"s":"0.580s","r":0.82,"v":0.095},{"s":"0.580s","r":0.84,"v":0.09},{"s":"0.580s","r":0.86,"v":0.085},{"s":"0.580s","r":0.88,"v":0.08},{"s":"0.580s","r":0.9,"v":0.073},{"s":"0.580s","r":0.92,"v":0.063},{"s":"0.580s","r":0.94,"v":0.041},{"s":"0.580s","r":0.96,"v":0.018},{"s":"0.580s","r":0.98,"v":0.0},{"s":"0.580s","r":1.0,"v":-0.006},{"s":"0.580s","r":1.02,"v":-0.003},{"s":"0.580s","r":1.04,"v":0.0},{"s":"0.580s","r":1.06,"v":0.001},{"s":"0.580s","r":1.08,"v":0.001},{"s":"0.580s","r":1.1,"v":0.001},{"s":"0.580s","r":1.12,"v":0.0005},{"s":"0.580s","r":1.14,"v":0.0005},{"s":"0.580s","r":1.16,"v":0.0003},{"s":"0.580s","r":1.18,"v":0.0002},{"s":"0.580s","r":1.2,"v":0.0001}
]
},
"vconcat": [
{"hconcat": [
{"width": 102, "height": 130, "data": {"name": "ux"},
 "mark": {"type": "line", "strokeWidth": 1.2, "clip": true},
 "encoding": {
  "x": {"field": "r", "type": "quantitative", "scale": {"domain": [0.15, 1.25], "nice": false, "zero": false}, "axis": {"values": [0.5, 1.0], "format": ".1f", "title": "r/R"}},
  "y": {"field": "v", "type": "quantitative", "scale": {"domain": [0.914, 1.34], "nice": false, "zero": false}, "axis": {"values": [1.0, 1.2], "format": ".1f", "title": "Ux/U"}},
  "color": {"field": "s", "type": "nominal", "scale": {"domain": ["0.541s","0.549s","0.557s","0.565s","0.572s"], "range": ["#ff0000","#bfbf00","#0000ff","#008000","#000000"]}, "legend": null}
 }},
{"width": 102, "height": 130, "data": {"name": "uy"},
 "mark": {"type": "line", "strokeWidth": 1.1, "clip": true},
 "encoding": {
  "x": {"field": "r", "type": "quantitative", "scale": {"domain": [0.15, 1.25], "nice": false, "zero": false}, "axis": {"values": [0.5, 1.0], "format": ".1f", "title": "r/R"}},
  "y": {"field": "v", "type": "quantitative", "scale": {"domain": [-0.0167, 0.0223], "nice": false, "zero": false}, "axis": {"values": [-0.01, 0, 0.01, 0.02], "format": ".2f", "title": "Uy/U", "titlePadding": 11}},
  "color": {"field": "s", "type": "nominal", "scale": {"domain": ["0.541s","0.549s","0.557s","0.565s","0.572s"], "range": ["#ff0000","#bfbf00","#0000ff","#008000","#000000"]}, "legend": null}
 }},
{"width": 103, "height": 130, "data": {"name": "uz"},
 "mark": {"type": "line", "strokeWidth": 1.1, "clip": true},
 "encoding": {
  "x": {"field": "r", "type": "quantitative", "scale": {"domain": [0.15, 1.25], "nice": false, "zero": false}, "axis": {"values": [0.5, 1.0], "format": ".1f", "title": "r/R"}},
  "y": {"field": "v", "type": "quantitative", "scale": {"domain": [-0.015, 0.0234], "nice": false, "zero": false}, "axis": {"values": [-0.01, 0, 0.01, 0.02], "format": ".2f", "title": "Uz/U", "titlePadding": 11}},
  "color": {"field": "s", "type": "nominal", "scale": {"domain": ["0.541s","0.549s","0.557s","0.565s","0.572s"], "range": ["#ff0000","#bfbf00","#0000ff","#008000","#000000"]}, "legend": null}
 }}
], "spacing": 91, "bounds": "flush", "resolve": {"scale": {"color": "independent"}}},
{"hconcat": [
{"width": 199, "height": 128, "data": {"name": "ut"},
 "mark": {"type": "line", "strokeWidth": 1.2, "clip": true},
 "encoding": {
  "x": {"field": "r", "type": "quantitative", "scale": {"domain": [0.15, 1.25], "nice": false, "zero": false}, "axis": {"values": [0.5, 1.0], "format": ".1f", "title": "r/R"}},
  "y": {"field": "v", "type": "quantitative", "scale": {"domain": [-0.03, 0.492], "nice": false, "zero": false}, "axis": {"values": [0, 0.2, 0.4], "format": ".1f", "title": "Uθ/U"}},
  "color": {"field": "s", "type": "nominal", "scale": {"domain": ["0.541s","0.549s","0.557s","0.565s","0.572s"], "range": ["#ff0000","#bfbf00","#0000ff","#008000","#000000"]},
   "legend": {"orient": "top-right", "offset": 2, "title": null, "strokeColor": "#cccccc", "fillColor": "rgba(255,255,255,0.85)", "cornerRadius": 3, "padding": 5, "symbolType": "M-2,0H2", "symbolSize": 196, "symbolOffset": 6.25, "symbolStrokeWidth": 1.5, "labelOffset": 17, "rowPadding": 3.7, "labelFontSize": 13, "labelFont": "DejaVu Sans", "labelColor": "#000000"}}
 }},
{"width": 198, "height": 128, "data": {"name": "g"},
 "layer": [
  {"mark": {"type": "line", "strokeWidth": 1.1, "clip": true},
   "encoding": {
    "x": {"field": "r", "type": "quantitative", "scale": {"domain": [0.15, 1.245], "nice": false, "zero": false}, "axis": {"values": [0.5, 1.0], "format": ".1f", "title": "r/R"}},
    "y": {"field": "v", "type": "quantitative", "scale": {"domain": [-0.0125, 0.162], "nice": false, "zero": false}, "axis": {"values": [0, 0.05, 0.1, 0.15], "format": ".2f", "title": "G(r)/(RU)", "titlePadding": 11}},
    "color": {"field": "s", "type": "nominal", "scale": {"domain": ["0.580s"], "range": ["#000000"]},
     "legend": {"orient": "bottom-left", "offset": 6, "title": null, "strokeColor": "#cccccc", "fillColor": "rgba(255,255,255,0.85)", "cornerRadius": 3, "padding": 4.5, "symbolType": "M-2,0H2M0.3,0A0.3,0.3,0,1,1,-0.3,0A0.3,0.3,0,1,1,0.3,0Z", "symbolSize": 196, "symbolOffset": 6.25, "symbolStrokeWidth": 1, "symbolFillColor": "#000000", "labelOffset": 18, "labelFontSize": 13, "labelFont": "DejaVu Sans", "labelColor": "#000000",
      "encode": {"symbols": {"update": {"fill": {"value": "#000000"}, "stroke": {"value": "#000000"}}}}}}
   }},
  {"mark": {"type": "point", "filled": true, "size": 13, "opacity": 1, "color": "#000000", "clip": true},
   "encoding": {
    "x": {"field": "r", "type": "quantitative"},
    "y": {"field": "v", "type": "quantitative"}
   }}
 ]}
], "spacing": 90, "bounds": "flush", "resolve": {"scale": {"color": "independent"}}}
],
"config": {
 "font": "DejaVu Sans",
 "view": {"stroke": "#000000", "strokeWidth": 1},
 "axis": {"domain": false, "grid": true, "gridColor": "#b0b0b0", "gridDash": [1.3, 2.2], "gridWidth": 0.9, "tickColor": "#000000", "tickSize": 4.5, "tickWidth": 1, "labelFont": "DejaVu Sans", "labelFontSize": 13, "labelColor": "#000000", "labelPadding": 3, "titleFont": "DejaVu Sans", "titleFontSize": 13, "titleFontWeight": "normal", "titleFontStyle": "italic", "titleColor": "#000000", "titlePadding": 4},
 "axisY": {"titlePadding": 7}
}
}
